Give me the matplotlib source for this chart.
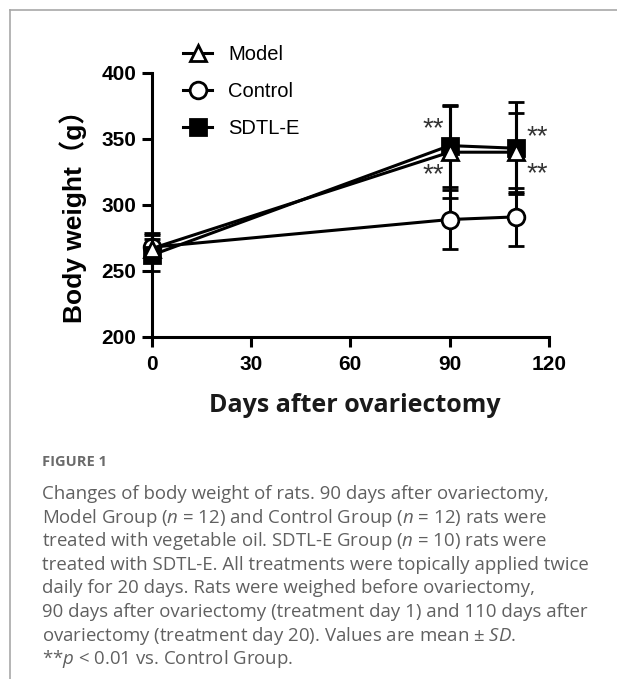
import matplotlib
matplotlib.use("Agg")
import matplotlib.pyplot as plt
from matplotlib.lines import Line2D

plt.rcParams['mathtext.fontset'] = 'custom'
plt.rcParams['mathtext.rm'] = 'Open Sans'
plt.rcParams['mathtext.it'] = 'Open Sans:italic'

days = [0, 90, 110]

model_mean = [267, 340, 340]
model_sd = [10, 35, 30]
control_mean = [268, 289, 291]
control_sd = [11, 22, 22]
sdtl_mean = [262, 345, 343]
sdtl_sd = [12, 31, 35]

# "**" marks: (day, weight) where each pair is centred
star_x = [85, 85, 116.5, 116.5]
star_y = [360, 325, 354, 326]

x_ticks = [0, 30, 60, 90, 120]
y_ticks = [200, 250, 300, 350, 400]

caption = [
    "Changes of body weight of rats. 90 days after ovariectomy,",
    "Model Group ($n$ = 12) and Control Group ($n$ = 12) rats were",
    "treated with vegetable oil. SDTL-E Group ($n$ = 10) rats were",
    "treated with SDTL-E. All treatments were topically applied twice",
    "daily for 20 days. Rats were weighed before ovariectomy,",
    "90 days after ovariectomy (treatment day 1) and 110 days after",
    "ovariectomy (treatment day 20). Values are mean \u00b1 $SD$.",
    "**$p$ < 0.01 vs. Control Group.",
]

W, H = 617, 679
fig = plt.figure(figsize=(W / 100, H / 100), dpi=100)
ax = fig.add_axes([151.7 / W, 1 - 337 / H, (549 - 151.7) / W, (337 - 73) / H])

lw = 2.2
ms = 12
common = dict(color='black', lw=lw, capsize=6, elinewidth=lw, capthick=lw,
              markeredgewidth=2, markersize=ms, clip_on=False)
ax.errorbar(days, control_mean, yerr=control_sd, marker='o',
            markerfacecolor='white', zorder=3, **common)
ax.errorbar(days, model_mean, yerr=model_sd, marker='^',
            markerfacecolor='white', zorder=5, **common)
ax.errorbar(days, sdtl_mean, yerr=sdtl_sd, marker='s',
            markerfacecolor='black', zorder=4, **common)

# asterisks sit high in the em box, so drop the baseline below the centre
for sx, sy in zip(star_x, star_y):
    ax.text(sx, sy - 8, "**", ha='center', va='baseline', fontsize=20,
            family='Liberation Sans', color='#333333')

ax.set_xlim(0, 120)
ax.set_ylim(200, 400)
ax.set_xticks(x_ticks)
ax.set_yticks(y_ticks)
for s in ['top', 'right']:
    ax.spines[s].set_visible(False)
for s in ['left', 'bottom']:
    ax.spines[s].set_linewidth(2.2)
ax.tick_params(width=2.2, length=7, labelsize=15, pad=4)
ax.tick_params(axis='x', pad=6)
for lab in ax.get_xticklabels() + ax.get_yticklabels():
    lab.set_fontweight('bold')
    lab.set_family('Liberation Sans')

fig.text(73 / W, 1 - 210 / H, "Body weight\uff08g\uff09", rotation=90,
         ha='center', va='center', fontsize=19, fontweight='bold',
         family=['Liberation Sans', 'Noto Sans CJK SC'])
fig.text(355 / W, 1 - 405 / H, "Days after ovariectomy", ha='center',
         va='center', fontsize=18, fontweight='bold', family='Open Sans',
         color='#1a1a1a')

handles = [
    Line2D([], [], color='black', lw=lw, marker='^', markerfacecolor='white',
           markeredgewidth=2, markersize=ms),
    Line2D([], [], color='black', lw=lw, marker='o', markerfacecolor='white',
           markeredgewidth=2, markersize=ms),
    Line2D([], [], color='black', lw=lw, marker='s', markerfacecolor='black',
           markeredgewidth=2, markersize=ms),
]
fig.legend(handles, ["Model", "Control", "SDTL-E"], loc='upper left',
           bbox_to_anchor=(165 / W, 1 - 27 / H), frameon=False,
           prop={'family': 'Liberation Sans', 'size': 14.5},
           handlelength=1.45, handletextpad=0.8, labelspacing=0.88)

fig.text(42 / W, 1 - 462 / H, "FIGURE 1", ha='left', va='center',
         fontsize=10.5, fontweight='bold', family='Open Sans', color='#6b6b6b')
for i, line in enumerate(caption):
    fig.text(42 / W, 1 - (494 + i * 23.6) / H, line, ha='left', va='center',
             fontsize=13.4, family='Open Sans', color='#606060')

# page frame on the left and top
fig.add_artist(Line2D([9.5 / W, 9.5 / W], [0, 1 - 10 / H], color='#a8a8a8',
                      lw=1.2, transform=fig.transFigure))
fig.add_artist(Line2D([9.5 / W, 1], [1 - 10 / H, 1 - 10 / H], color='#a8a8a8',
                      lw=1.2, transform=fig.transFigure))

fig.savefig("out.png", dpi=100)
